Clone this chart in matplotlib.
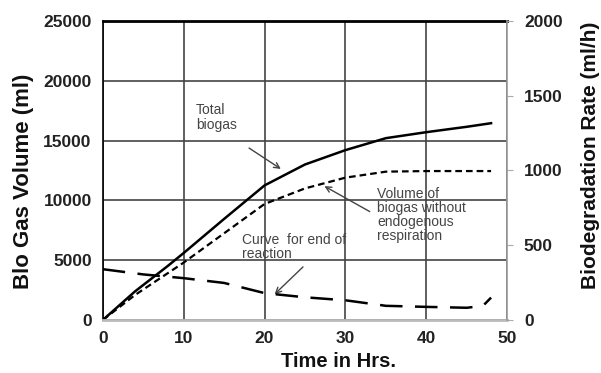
import matplotlib
matplotlib.use("Agg")
import matplotlib.pyplot as plt

t_total = [0, 4, 8, 10, 15, 20, 25, 30, 35, 40, 45, 48]
total_biogas = [0, 2400, 4500, 5600, 8450, 11250, 13000, 14200, 15200, 15700, 16150, 16450]

t_noendo = [0, 4, 8, 10, 15, 20, 25, 30, 35, 40, 45, 48]
noendo_biogas = [0, 2100, 3900, 4800, 7250, 9700, 11000, 11900, 12400, 12450, 12450, 12450]

t_rate = [0, 5, 10, 15, 20, 25, 30, 35, 40, 45, 47, 48]
rate = [340, 305, 280, 248, 180, 152, 132, 95, 88, 82, 95, 150]

plt.rcParams["font.family"] = ["Liberation Sans", "DejaVu Sans"]

fig = plt.figure(figsize=(6.01, 3.73), dpi=100)
ax = fig.add_axes([0.171, 0.142, 0.673, 0.802])
ax2 = ax.twinx()

ax.plot(t_total, total_biogas, color="black", lw=1.8)
ax.plot(t_noendo, noendo_biogas, color="black", lw=1.6, dashes=(3, 1.8))
ax2.plot(t_rate, rate, color="black", lw=1.8, dashes=(9, 5))

ax.set_xlim(0, 50)
ax.set_ylim(0, 25000)
ax2.set_ylim(0, 2000)
ax.set_xticks(range(0, 51, 10))
ax.set_yticks(range(0, 25001, 5000))
ax2.set_yticks(range(0, 2001, 500))

ax.grid(True, color="#444444", lw=1.2)
ax.set_axisbelow(True)
ax.tick_params(axis="both", length=0, labelsize=12.5, pad=8)
ax2.tick_params(axis="y", length=4, color="#aaaaaa", labelsize=12.5, pad=8)
for lab in ax.get_xticklabels() + ax.get_yticklabels() + ax2.get_yticklabels():
    lab.set_fontweight("bold")
    lab.set_color("#222222")

ax.spines["top"].set_linewidth(2)
ax.spines["left"].set_linewidth(1.2)
ax.spines["bottom"].set_color("#bbbbbb")
ax.spines["bottom"].set_linewidth(2)
ax.spines["right"].set_visible(False)
ax2.spines["top"].set_visible(False)
ax2.spines["left"].set_visible(False)
ax2.spines["bottom"].set_visible(False)
ax2.spines["right"].set_color("#999999")
ax2.spines["right"].set_linewidth(1.2)

fig.text(0.563, 0.016, "Time in Hrs.", fontsize=14.5, fontweight="bold",
         ha="center", va="baseline", color="#111111")
fig.text(0.039, 0.513, "Blo Gas Volume (ml)", fontsize=16, fontweight="bold",
         ha="center", va="center", rotation=90, color="#111111")
fig.text(0.982, 0.584, "Biodegradation Rate (ml/h)", fontsize=15, fontweight="bold",
         ha="center", va="center", rotation=90, color="#111111")

arrow = dict(arrowstyle="->", color="#444444", lw=1.0)
ax.annotate("Total\nbiogas", xy=(22.3, 12500), xytext=(11.5, 18100),
            fontsize=10, color="#444444", va="top", linespacing=1.05)
ax.annotate("", xy=(22.3, 12500), xytext=(17.8, 14500), arrowprops=arrow)
ax.annotate("Volume of\nbiogas without\nendogenous\nrespiration", xy=(27.1, 11300),
            xytext=(33.9, 11100), fontsize=10, color="#444444", va="top",
            linespacing=1.0)
ax.annotate("", xy=(27.1, 11300), xytext=(33.3, 8950), arrowprops=arrow)
ax.annotate("Curve  for end of\nreaction", xy=(21.0, 2000), xytext=(17.2, 7300),
            fontsize=10, color="#444444", va="top", linespacing=1.05)
ax.annotate("", xy=(21.0, 2000), xytext=(25.0, 4600), arrowprops=arrow)

fig.savefig("out.png", dpi=100)
